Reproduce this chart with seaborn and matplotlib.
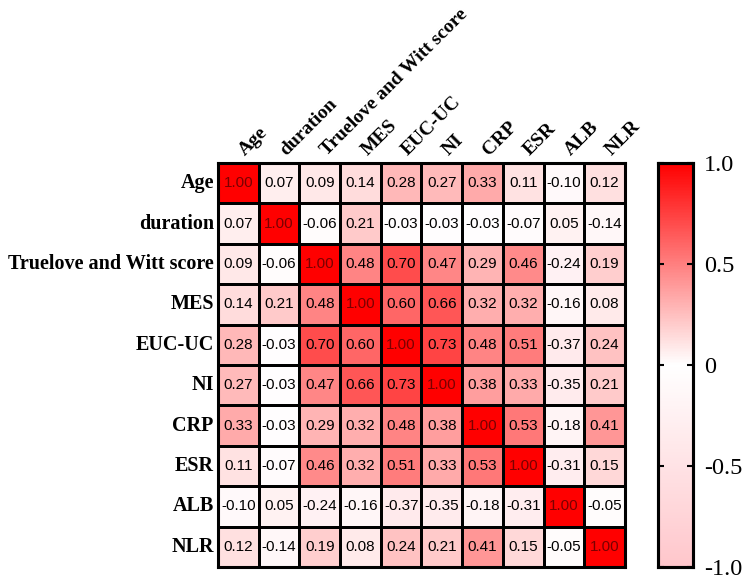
import numpy as np
import pandas as pd
import matplotlib
matplotlib.use('Agg')
import matplotlib.pyplot as plt
import matplotlib.transforms as mtransforms
import seaborn as sns
from matplotlib.colors import LinearSegmentedColormap

# variables and correlation values
labels = ['Age', 'duration', 'Truelove and Witt score', 'MES', 'EUC-UC',
          'NI', 'CRP', 'ESR', 'ALB', 'NLR']
r_age = [1.00, 0.07, 0.09, 0.14, 0.28, 0.27, 0.33, 0.11, -0.10, 0.12]
r_duration = [0.07, 1.00, -0.06, 0.21, -0.03, -0.03, -0.03, -0.07, 0.05, -0.14]
r_truelove = [0.09, -0.06, 1.00, 0.48, 0.70, 0.47, 0.29, 0.46, -0.24, 0.19]
r_mes = [0.14, 0.21, 0.48, 1.00, 0.60, 0.66, 0.32, 0.32, -0.16, 0.08]
r_euc = [0.28, -0.03, 0.70, 0.60, 1.00, 0.73, 0.48, 0.51, -0.37, 0.24]
r_ni = [0.27, -0.03, 0.47, 0.66, 0.73, 1.00, 0.38, 0.33, -0.35, 0.21]
r_crp = [0.33, -0.03, 0.29, 0.32, 0.48, 0.38, 1.00, 0.53, -0.18, 0.41]
r_esr = [0.11, -0.07, 0.46, 0.32, 0.51, 0.33, 0.53, 1.00, -0.31, 0.15]
r_alb = [-0.10, 0.05, -0.24, -0.16, -0.37, -0.35, -0.18, -0.31, 1.00, -0.05]
r_nlr = [0.12, -0.14, 0.19, 0.08, 0.24, 0.21, 0.41, 0.15, -0.05, 1.00]
cbar_ticks = [-1.0, -0.5, 0, 0.5, 1.0]
cbar_ticklabels = ['-1.0', '-0.5', '0', '0.5', '1.0']

corr = pd.DataFrame([r_age, r_duration, r_truelove, r_mes, r_euc,
                     r_ni, r_crp, r_esr, r_alb, r_nlr],
                    index=labels, columns=labels)

cmap = LinearSegmentedColormap.from_list(
    'pinkred', [(0.0, '#FFC6CB'), (0.5, '#FFFFFF'), (1.0, '#FF0000')])

fig = plt.figure(figsize=(7.42, 5.79), dpi=100)
ax = fig.add_axes([0.2938, 0.0207, 0.5485, 0.6978])
cax = fig.add_axes([0.8868, 0.0207, 0.0472, 0.6978])

sns.heatmap(corr, ax=ax, cbar_ax=cax, cmap=cmap, vmin=-1, vmax=1,
            annot=True, fmt='.2f', linewidths=1.0, linecolor='black',
            annot_kws={'fontsize': 11, 'family': 'Liberation Sans', 'color': 'black'})

# diagonal labels drawn darker red like the original
for t in ax.texts:
    if t.get_text() == '1.00':
        t.set_color('#7a0000')

ax.xaxis.tick_top()
ax.set_xticklabels(labels, rotation=45, ha='left', rotation_mode='anchor',
                   family='Liberation Serif', fontweight='bold', fontsize=14)
ax.set_yticklabels(labels, rotation=0, family='Liberation Serif',
                   fontweight='bold', fontsize=14.5)
ax.tick_params(axis='y', length=0, pad=3)
ax.tick_params(axis='x', length=0, pad=4)
# nudge the slanted column labels right so they start over the cell centres
shift = mtransforms.ScaledTranslation(7 / 72, -1 / 72, fig.dpi_scale_trans)
for lbl in ax.get_xticklabels():
    lbl.set_transform(lbl.get_transform() + shift)
ax.set_xlabel('')
ax.set_ylabel('')
for sp in ax.spines.values():
    sp.set_visible(True)
    sp.set_linewidth(2.2)
    sp.set_color('black')

cax.set_yticks(cbar_ticks)
cax.set_yticklabels(cbar_ticklabels, family='Liberation Serif', fontsize=17.5)
cax.tick_params(direction='in', left=True, right=True, length=4, width=1.5, pad=8)
for sp in cax.spines.values():
    sp.set_visible(True)
    sp.set_linewidth(2.2)
    sp.set_color('black')

plt.savefig('out.png', dpi=100)
